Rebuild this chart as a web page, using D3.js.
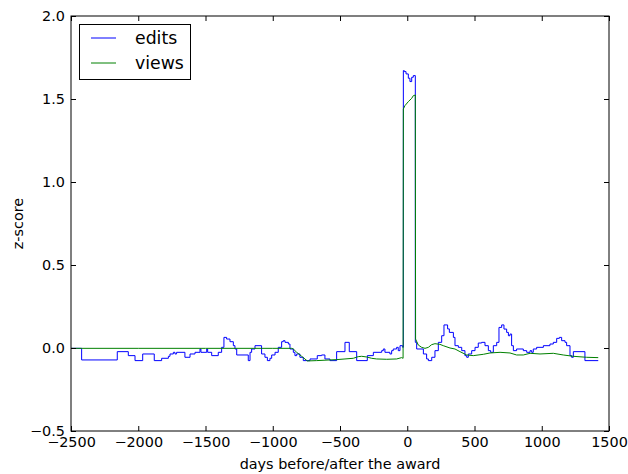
<!DOCTYPE html>
<html><head><meta charset="utf-8">
<script src="https://cdn.jsdelivr.net/npm/d3@7"></script>
<style>body{margin:0;background:#fff}svg{display:block}text{font-family:"DejaVu Sans",sans-serif}</style>
</head><body>
<script>
const xTicks = [-2500,-2000,-1500,-1000,-500,0,500,1000,1500];
const yTicks = [-0.5,0.0,0.5,1.0,1.5,2.0];
const seriesNames = ["edits","views"];
const editsDays = [-2500,-2421,-2156,-2074,-2024,-1967,-1881,-1826,-1776,-1764,-1739,-1727,-1715,-1653,-1615,-1578,-1541,-1534,-1491,-1484,-1454,-1405,-1380,-1363,-1343,-1318,-1293,-1281,-1268,-1182,-1169,-1157,-1132,-1083,-1058,-1040,-1021,-1008,-983,-959,-934,-922,-909,-884,-872,-847,-835,-822,-798,-773,-723,-669,-637,-612,-575,-525,-463,-431,-376,-297,-252,-190,-178,-166,-129,-116,-104,-79,-67,-54,-34,-29,-22,-9,8,20,33,45,60,70,95,120,144,157,182,206,231,256,273,300,313,343,355,380,405,429,442,454,479,504,528,553,578,603,620,640,665,682,702,719,739,752,764,776,789,813,863,888,913,925,937,962,1012,1061,1086,1111,1131,1148,1173,1185,1210,1222,1235,1321,1420];
const editsVals = [-0.002,-0.072,-0.022,-0.046,-0.076,-0.036,-0.076,-0.062,-0.050,-0.036,-0.026,-0.036,-0.026,-0.056,-0.036,-0.026,-0.006,-0.026,-0.006,-0.026,-0.046,-0.026,0.004,0.064,0.054,0.038,0.014,-0.006,-0.042,-0.076,-0.026,-0.006,0.014,-0.036,-0.056,-0.076,-0.062,-0.042,-0.026,0.004,0.038,0.044,0.034,0.024,-0.006,-0.026,-0.046,-0.036,-0.056,-0.076,-0.066,-0.046,-0.042,-0.066,-0.076,-0.022,0.034,-0.022,-0.076,-0.046,-0.026,-0.016,-0.006,-0.026,-0.036,-0.016,-0.006,0.004,-0.016,0.014,0.004,1.671,1.665,1.651,1.625,1.605,1.631,1.641,0.034,-0.006,-0.006,-0.036,-0.066,-0.076,-0.056,-0.016,0.034,0.074,0.139,0.115,0.094,0.064,0.014,0.004,-0.016,-0.046,-0.056,-0.036,-0.016,0.004,0.030,0.034,0.014,-0.016,-0.026,0.014,0.034,0.124,0.139,0.114,0.094,0.074,0.084,0.014,-0.016,-0.006,-0.016,-0.026,-0.016,-0.026,-0.006,0.004,0.014,0.024,0.034,0.058,0.064,0.044,0.034,0.014,-0.046,-0.056,-0.022,-0.076,-0.076];
const viewsDays = [-2500,-2000,-1500,-1000,-860,-847,-822,-785,-743,-674,-575,-525,-463,-401,-364,-339,-302,-265,-228,-153,-79,-42,-31,-29,-17,8,33,45,60,62,82,107,132,157,181,206,243,268,318,355,392,442,491,566,615,690,764,813,863,913,987,1086,1160,1235,1334,1420];
const viewsVals = [-0.002,-0.002,-0.002,-0.002,-0.002,-0.006,-0.026,-0.050,-0.078,-0.076,-0.072,-0.070,-0.066,-0.062,-0.052,-0.050,-0.054,-0.062,-0.066,-0.068,-0.066,-0.058,-0.062,1.440,1.460,1.484,1.504,1.520,1.524,0.054,0.018,0.004,-0.002,0.004,0.020,0.026,0.022,0.014,0.000,-0.006,-0.022,-0.042,-0.046,-0.038,-0.030,-0.026,-0.030,-0.042,-0.042,-0.032,-0.036,-0.032,-0.042,-0.050,-0.056,-0.058];

const W=628,H=474;
const L=71,R=609,T=16,B=431;
const svg=d3.select("body").append("svg").attr("width",W).attr("height",H);
const x=d3.scaleLinear().domain([-2500,1500]).range([L,R]);
const y=d3.scaleLinear().domain([-0.5,2.0]).range([B,T]);
const fmtX=d=>d<0?"\u2212"+Math.abs(d):String(d);
const fmtY=d=>(d<0?"\u2212":"")+Math.abs(d).toFixed(1);
const fs="14.4px", lfs="17.3px";

svg.append("defs").append("clipPath").attr("id","clip").append("rect").attr("x",L).attr("y",T).attr("width",R-L).attr("height",B-T);

const editsData=editsDays.map((d,i)=>({d:d,v:editsVals[i]}));
const viewsData=viewsDays.map((d,i)=>({d:d,v:viewsVals[i]}));

const lineStep=d3.line().x(p=>x(p.d)).y(p=>y(p.v)).curve(d3.curveStepAfter);
const lineLin=d3.line().x(p=>x(p.d)).y(p=>y(p.v));

const gl=svg.append("g").attr("clip-path","url(#clip)");
gl.append("path").datum(editsData).attr("d",lineStep).attr("fill","none").attr("stroke","#0000ff").attr("stroke-width",1);
gl.append("path").datum(viewsData).attr("d",lineLin).attr("fill","none").attr("stroke","#008000").attr("stroke-width",1);

const tl=5;
const axB=d3.axisBottom(x).tickValues(xTicks).tickFormat(fmtX).tickSizeInner(-tl).tickSizeOuter(0).tickPadding(6);
const axT=d3.axisTop(x).tickValues(xTicks).tickFormat("").tickSizeInner(-tl).tickSizeOuter(0);
const axL=d3.axisLeft(y).tickValues(yTicks).tickFormat(fmtY).tickSizeInner(-tl).tickSizeOuter(0).tickPadding(6);
const axR=d3.axisRight(y).tickValues(yTicks).tickFormat("").tickSizeInner(-tl).tickSizeOuter(0);
[[axB,`translate(0,${B})`],[axT,`translate(0,${T})`],[axL,`translate(${L},0)`],[axR,`translate(${R},0)`]].forEach(([a,t])=>{
  const g=svg.append("g").attr("transform",t).call(a);
  g.select(".domain").remove();
  g.selectAll("line").attr("stroke","#000");
  g.selectAll("text").attr("font-size",fs).attr("fill","#000").attr("font-family","DejaVu Sans");
});
svg.append("rect").attr("x",L).attr("y",T).attr("width",R-L).attr("height",B-T).attr("fill","none").attr("stroke","#000").attr("stroke-width",1);

svg.append("text").attr("x",(L+R)/2).attr("y",469).attr("text-anchor","middle").attr("font-size",fs).text("days before/after the award");
svg.append("text").attr("transform",`translate(23,${(T+B)/2}) rotate(-90)`).attr("text-anchor","middle").attr("font-size",fs).text("z-score");

const lg=svg.append("g");
lg.append("rect").attr("x",79.5).attr("y",24.5).attr("width",111).attr("height",55).attr("fill","#fff").attr("stroke","#000").attr("stroke-width",1);
const colors=["#0000ff","#008000"];
seriesNames.forEach((n,i)=>{
  const yy=38+i*25;
  lg.append("line").attr("x1",91).attr("x2",116).attr("y1",yy).attr("y2",yy).attr("stroke",colors[i]).attr("stroke-width",1);
  lg.append("text").attr("x",135).attr("y",yy).attr("dy","0.35em").attr("font-size",lfs).text(n);
});
</script>
</body></html>
